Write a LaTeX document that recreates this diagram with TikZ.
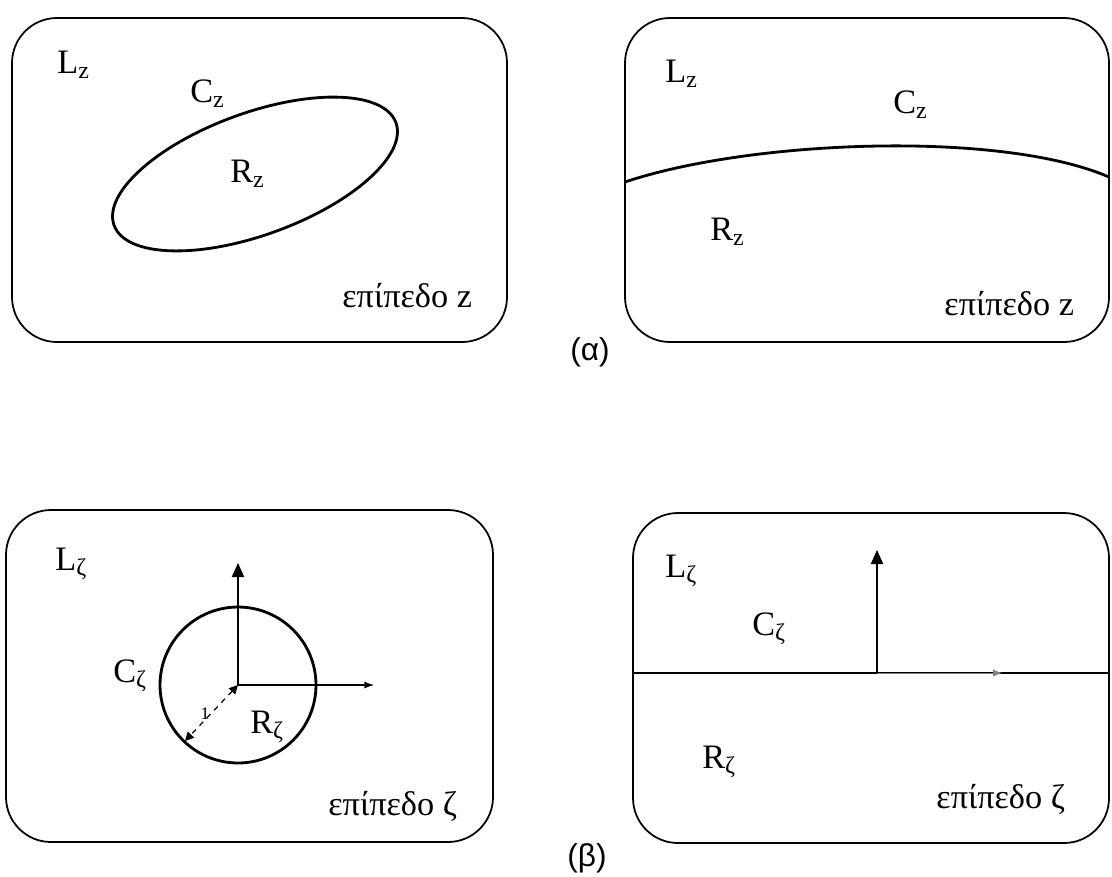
\documentclass[tikz,border=0pt]{standalone}
\usepackage{fontspec}
\setmainfont{Liberation Serif}
\newfontfamily\capfont{Liberation Sans}
\usetikzlibrary{arrows.meta,positioning}

\tikzset{
  plane/.style={line width=1pt,rounded corners=0.9cm},
  bound/.style={line width=1.6pt},
  lbl/.style={font=\fontsize{19.5}{22}\selectfont,inner sep=0pt,anchor=base west},
  figcap/.style={font=\capfont\fontsize{18}{20}\selectfont,inner sep=0pt},
  axis/.style={line width=0.7pt,-{Triangle[length=8pt,width=7pt]}}
}

\begin{document}
\begin{tikzpicture}[x=0.02cm,y=-0.02cm,>=Latex]
  \useasboundingbox (0,0) rectangle (1112,876);
  % (alpha): plane z
  \draw[plane] (12,18) rectangle (507,342);
  \coordinate (e1) at (255,174);
  \draw[bound,rotate around={20:(e1)}] (e1) ellipse (3cm and 1.22cm);
  \node[lbl] (lz1) at (57,73) {L\textsubscript{z}};
  \node[lbl] (cz1) at (190,102) {C\textsubscript{z}};
  \node[lbl] (rz1) at (230,182) {R\textsubscript{z}};
  \node[lbl] (pz1) at (342,307) {επίπεδο z};

  \draw[plane] (625,18) rectangle (1109,342);
  \coordinate (cl2) at (625,182);
  \coordinate (cr2) at (1109,177);
  \draw[bound] (cl2) .. controls (750,140) and (1000,130) .. (cr2);
  \node[lbl] (lz2) at (665,82) {L\textsubscript{z}};
  \node[lbl] (cz2) at (893,113) {C\textsubscript{z}};
  \node[lbl] (rz2) at (710,240) {R\textsubscript{z}};
  \node[lbl] (pz2) at (944,315) {επίπεδο z};

  \node[figcap] (alpha) at (590,352) {(α)};

  % (beta): plane zeta
  \draw[plane] (6,510) rectangle (493,842);
  \coordinate (o1) at (238,685);
  \coordinate (up1) at (238,563);
  \coordinate (re1) at (375,685);
  \coordinate (rim1) at (185,741);
  \draw[bound] (o1) circle (1.56cm);
  \draw[axis] (o1) -- (up1);
  \draw[line width=1.2pt,-{Latex[length=6pt,width=4pt]}] (o1) -- (re1);
  \draw[line width=0.7pt,dashed,{Triangle[length=5pt,width=5pt]}-{Triangle[length=5pt,width=5pt]}] (o1) -- (rim1);
  \node[font=\fontsize{10}{12}\selectfont,inner sep=0pt] (one) at (205,714) {1};
  \node[lbl] (lc1) at (55,570) {L\textsubscript{ζ}};
  \node[lbl] (cc1) at (113,682) {C\textsubscript{ζ}};
  \node[lbl] (rc1) at (250,733) {R\textsubscript{ζ}};
  \node[lbl] (pc1) at (328,815) {επίπεδο ζ};

  \draw[plane] (633,513) rectangle (1109,843);
  \coordinate (o2) at (877,673);
  \coordinate (up2) at (877,550);
  \coordinate (w2) at (633,673);
  \coordinate (e2) at (1109,673);
  \coordinate (tip2) at (1002,673);
  \draw[bound] (w2) -- (e2);
  \draw[axis] (o2) -- (up2);
  \draw[line width=0.5pt,gray,-{Latex[length=5pt,width=4pt]}] (o2) -- (tip2);
  \node[lbl] (lc2) at (665,577) {L\textsubscript{ζ}};
  \node[lbl] (cc2) at (752,635) {C\textsubscript{ζ}};
  \node[lbl] (rc2) at (702,768) {R\textsubscript{ζ}};
  \node[lbl] (pc2) at (936,808) {επίπεδο ζ};

  \node[figcap] (beta) at (587,858) {(β)};
\end{tikzpicture}
\end{document}
